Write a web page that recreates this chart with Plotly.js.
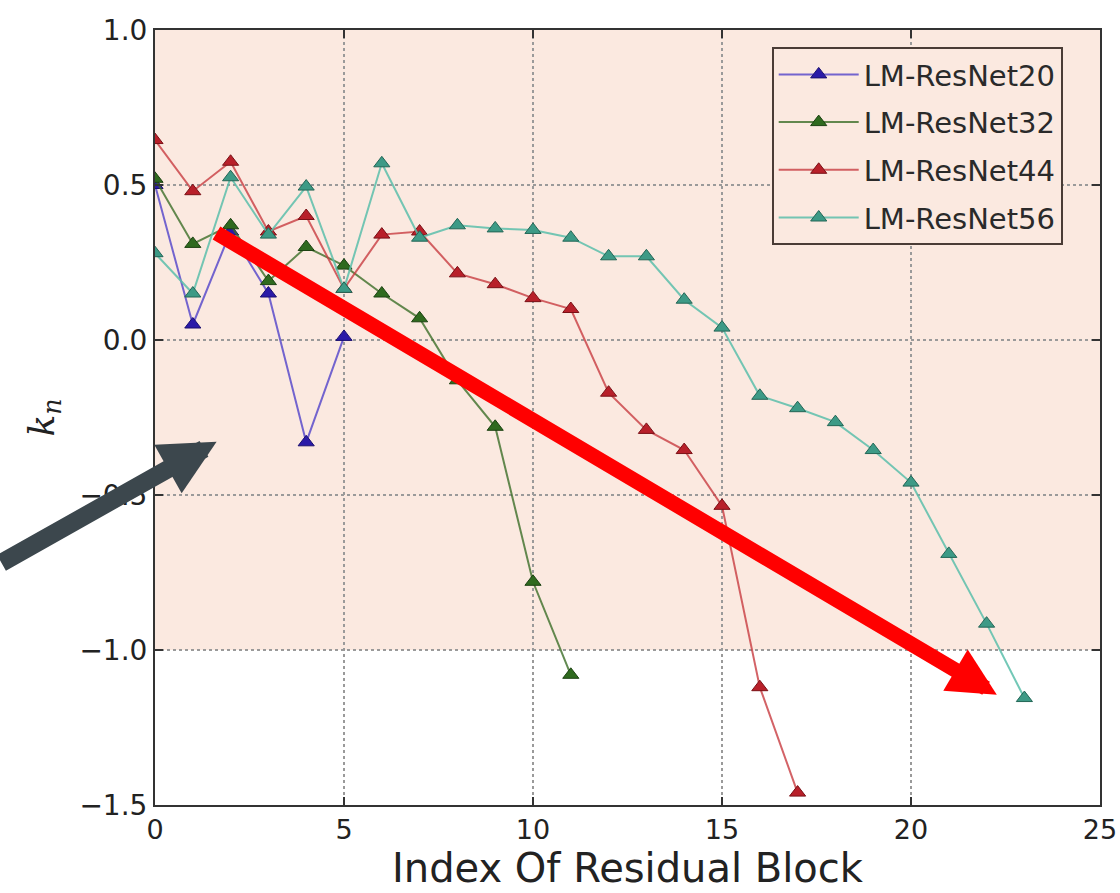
<!DOCTYPE html>
<html><head><meta charset="utf-8">
<script src="https://cdn.plot.ly/plotly-3.0.1.min.js"></script>
<style>html,body{margin:0;padding:0;background:#fff}#chart{width:1120px;height:893px}</style>
</head><body><div id="chart"></div>
<script>
// Index of residual block for each network
const idx20 = [0,1,2,3,4,5];
const idx32 = [0,1,2,3,4,5,6,7,8,9,10,11];
const idx44 = [0,1,2,3,4,5,6,7,8,9,10,11,12,13,14,15,16,17];
const idx56 = [0,1,2,3,4,5,6,7,8,9,10,11,12,13,14,15,16,17,18,19,20,21,22,23];
// k_n values
const resnet20 = [0.50,0.05,0.35,0.15,-0.33,0.01];
const resnet32 = [0.52,0.31,0.37,0.19,0.30,0.24,0.15,0.07,-0.13,-0.28,-0.78,-1.08];
const resnet44 = [0.645,0.48,0.575,0.35,0.40,0.165,0.34,0.35,0.215,0.18,0.135,0.10,-0.17,-0.29,-0.355,-0.535,-1.12,-1.46];
const resnet56 = [0.28,0.15,0.525,0.34,0.495,0.165,0.57,0.33,0.37,0.36,0.355,0.33,0.27,0.27,0.13,0.04,-0.18,-0.22,-0.265,-0.355,-0.46,-0.69,-0.915,-1.155];
const seriesNames = ['LM-ResNet20','LM-ResNet32','LM-ResNet44','LM-ResNet56'];
const xTickVals = [0,5,10,15,20,25];
const yTickVals = [-1.5,-1.0,-0.5,0.0,0.5,1.0];

const styles = [
  {line:'rgba(70,55,200,0.75)', mk:'#2a1aa8', edge:'#1a0f70'},
  {line:'rgba(60,110,40,0.8)', mk:'#2f6a1f', edge:'#1c4212'},
  {line:'rgba(200,60,65,0.8)', mk:'#b8202a', edge:'#7a1016'},
  {line:'rgba(90,190,170,0.85)', mk:'#3d9a86', edge:'#236656'}
];
const xs = [idx20, idx32, idx44, idx56];
const ys = [resnet20, resnet32, resnet44, resnet56];

const traces = ys.map((y, i) => ({
  type:'scatter', mode:'lines+markers', x: xs[i], y: y, name: seriesNames[i],
  legendgroup: 'g'+i,
  line:{color: styles[i].line, width:2},
  marker:{symbol:'triangle-up', size:14, color: styles[i].mk, line:{color: styles[i].edge, width:1}}
}));

const font = 'DejaVu Sans, sans-serif';
const layout = {
  width:1120, height:893,
  margin:{l:155, r:20, t:30, b:88},
  paper_bgcolor:'#ffffff', plot_bgcolor:'#ffffff',
  showlegend:true,
  legend:{
    x:0.6526, y:0.978, xanchor:'left', yanchor:'top',
    bgcolor:'#fbe9e0', bordercolor:'#4a3c36', borderwidth:2,
    font:{family:font, size:29, color:'#2a2a2a'},
    traceorder:'grouped', tracegroupgap:7,
    itemwidth:80
  },
  xaxis:{
    range:[0,25], tickvals:xTickVals, ticktext:xTickVals.map(String),
    showgrid:true, gridcolor:'#9a9a9a', griddash:'dot', gridwidth:1.5,
    zeroline:false, showline:true, linecolor:'#333', linewidth:2, mirror:'ticks',
    ticks:'inside', ticklen:8, tickcolor:'#333', tickwidth:1.5,
    tickfont:{family:font, size:27, color:'#222'},
    title:{text:'Index Of Residual Block', font:{family:font, size:40, color:'#222'}, standoff:8},
    automargin:false
  },
  yaxis:{
    range:[-1.5,1.0], tickvals:yTickVals, tickformat:'.1f',
    showgrid:true, gridcolor:'#9a9a9a', griddash:'dot', gridwidth:1.5,
    zeroline:false, showline:true, linecolor:'#333', linewidth:2, mirror:'ticks',
    ticks:'inside', ticklen:8, tickcolor:'#333', tickwidth:1.5,
    tickfont:{family:font, size:28, color:'#222'},
    title:{text:'<i>k</i><sub><i>n</i></sub>', font:{family:'DejaVu Serif, serif', size:36, color:'#222'}, standoff:14},
    automargin:false
  },
  shapes:[
    {type:'rect', xref:'paper', x0:0, x1:1, yref:'y', y0:-1.0, y1:1.0,
     fillcolor:'#fbe9e0', line:{width:0}, layer:'below'}
  ],
  annotations:[
    {x:22.27, y:-1.144, xref:'x', yref:'y', ax:1.587, ay:0.348, axref:'x', ayref:'y',
     text:'', showarrow:true, arrowhead:2, arrowsize:0.64, arrowwidth:15, arrowcolor:'#ff0000', standoff:0},
    {x:1.63, y:-0.328, xref:'x', yref:'y', ax:-217, ay:122,
     text:'', showarrow:true, arrowhead:2, arrowsize:0.62, arrowwidth:18, arrowcolor:'#3c474d', standoff:0}
  ]
};
Plotly.newPlot('chart', traces, layout, {displayModeBar:false, staticPlot:true});
</script>
</body></html>
